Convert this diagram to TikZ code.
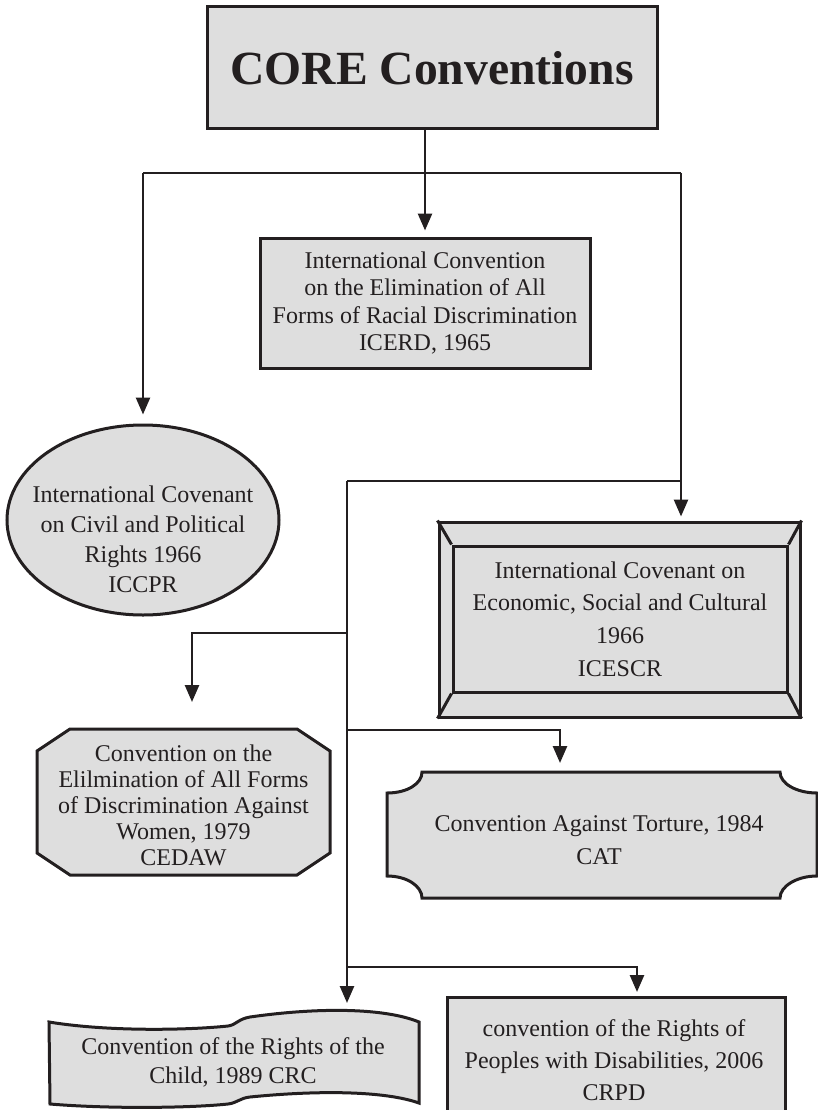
\documentclass[tikz,border=0pt]{standalone}
\usepackage{fontspec}
\setmainfont{Liberation Serif}
\usetikzlibrary{arrows.meta,shapes.geometric,calc}
\definecolor{fillg}{HTML}{DEDEDE}
\definecolor{ink}{HTML}{231F20}
\begin{document}
\begin{tikzpicture}[x=1pt,y=-1pt,
  shp/.style={draw=ink, fill=fillg, line width=3pt, line join=miter},
  box/.style={shp, rectangle, inner sep=0pt},
  txt/.style={text=ink, align=center, inner sep=0pt},
  conn/.style={draw=ink, line width=2.6pt},
  arr/.style={conn, -{Triangle[length=17pt,width=14pt]}},
]
\useasboundingbox (0,0) rectangle (818,1110);

% ---- shapes ----
\node[box, minimum width=450pt, minimum height=122pt, text=ink,
      font=\fontsize{47.6}{50}\bfseries\selectfont] (core) at (432,68) {CORE Conventions};

\node[box, txt, draw=ink, minimum width=330pt, minimum height=130pt,
      font=\fontsize{24}{27.4}\selectfont] (icerd) at (425,303)
  {International Convention\\on the Elimination of All\\Forms of Racial Discrimination\\ICERD, 1965};

\node[shp, ellipse, minimum width=272pt, minimum height=190pt, inner sep=0pt] (iccpr) at (143,520) {};
\node[txt, font=\fontsize{24}{30}\selectfont] (iccprt) at (143,539)
  {International Covenant\\on Civil and Political\\Rights 1966\\ICCPR};

\node[box, minimum width=361pt, minimum height=195pt] (icescr) at (619.5,619.5) {};
\node[box, txt, draw=ink, minimum width=334pt, minimum height=146pt,
      font=\fontsize{24}{32.7}\selectfont] (icescri) at (620,619)
  {International Covenant on\\Economic, Social and Cultural\\1966\\ICESCR};
\draw[shp] (icescr.north west) -- (icescri.north west);
\draw[shp] (icescr.north east) -- (icescri.north east);
\draw[shp] (icescr.south west) -- (icescri.south west);
\draw[shp] (icescr.south east) -- (icescri.south east);

% CEDAW octagon
\draw[shp] (70,729) -- (297,729) -- (330,751) -- (330,853) -- (297,875)
  -- (70,875) -- (37,853) -- (37,751) -- cycle;
\node[txt, font=\fontsize{24}{26}\selectfont] (cedaw) at (183.5,805)
  {Convention on the\\Elilmination of All Forms\\of Discrimination Against\\Women, 1979\\CEDAW};
\coordinate (cedawtop) at (192,729);

% CAT plaque
\draw[shp] (422,772) -- (780,772) .. controls (780,783.6) and (796.6,793) .. (817,793)
  -- (817,876) .. controls (796.6,876) and (780,886.4) .. (780,898)
  -- (422,898) .. controls (422,886.4) and (407.4,876) .. (387,876)
  -- (387,793) .. controls (407.4,793) and (422,783.6) .. (422,772) -- cycle;
\node[txt, font=\fontsize{24}{33}\selectfont] (cat) at (599,840)
  {Convention Against Torture, 1984\\CAT};
\coordinate (cattop) at (560,772);

% CRC banner
\draw[shp] (49,1022) .. controls (110,1032) and (190,1030) .. (228,1026)
  .. controls (236,1025) and (238,1019) .. (250,1017)
  .. controls (320,1007) and (385,1008) .. (419,1022)
  -- (419,1103) .. controls (385,1091) and (320,1090) .. (250,1097)
  .. controls (240,1098) and (237,1103) .. (228,1104)
  .. controls (190,1108) and (110,1109) .. (50,1104) -- cycle;
\node[txt, font=\fontsize{24}{29}\selectfont] (crc) at (233,1062)
  {Convention of the Rights of the\\Child, 1989 CRC};
\coordinate (crctop) at (347,1011);

% CRPD box (cut by the page edge)
\node[box, minimum width=338pt, minimum height=140pt] (crpd) at (616,1067) {};
\node[txt, font=\fontsize{24}{32}\selectfont] (crpdt) at (614,1060)
  {convention of the Rights of\\Peoples with Disabilities, 2006\\CRPD};
\coordinate (crpdtop) at (637,997);

% ---- connectors ----
\coordinate (jL) at (143,173);
\coordinate (jR) at (681,173);
\coordinate (jC) at (icerd.north |- jL);
\draw[conn] (core.south -| icerd.north) -- (jC);
\draw[arr, shorten >=6pt] (jC) -- (icerd.north);
\draw[conn] (jL) -- (jR);
\draw[arr, shorten >=9pt] (jL) -- (iccpr.north);
\draw[arr, shorten >=4pt] (jR) -- (jR |- icescr.north);

\coordinate (m1) at (347,481);
\draw[conn] (m1) -- (m1 -| jR);
\draw[arr, shorten >=8pt] (m1) -- (crctop);

\coordinate (b1) at (347,633);
\coordinate (b2) at (347,730);
\coordinate (b3) at (347,967);
\draw[arr, shorten >=27pt] (b1) -| (cedawtop);
\draw[arr, shorten >=9pt] (b2) -| (cattop);
\draw[arr, shorten >=5pt] (b3) -| (crpdtop);
\end{tikzpicture}
\end{document}
